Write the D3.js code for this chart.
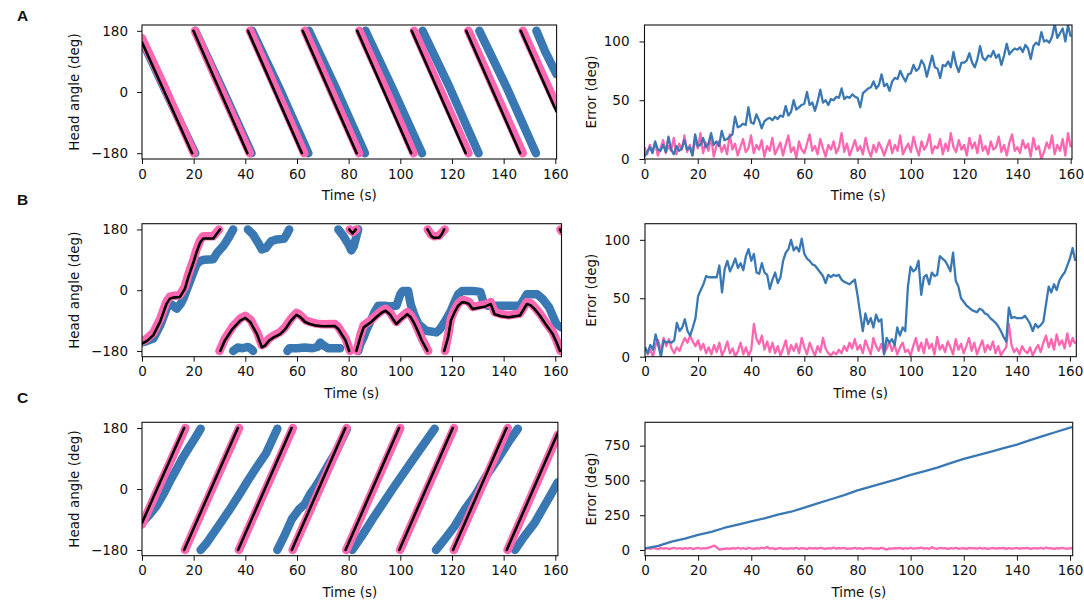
<!DOCTYPE html>
<html>
<head>
<meta charset="utf-8">
<script src="https://cdn.jsdelivr.net/npm/d3@7"></script>
<style>
  body { margin: 0; background: #fff; }
  svg { display: block; }
</style>
</head>
<body>
<script>
// tick labels
const timeTicks = [0, 20, 40, 60, 80, 100, 120, 140, 160];
const angleTicks = [-180, 0, 180];
const errTicksAB = [0, 50, 100];
const errTicksC = [0, 250, 500, 750];
const panelLetters = ['A', 'B', 'C'];

// head angle trajectories, [time s, angle deg], one array per unwrapped piece
const angleA_black = [
  [[0, 146], [19.4, -180]],
  [[19.9, 180], [40.8, -180]],
  [[41.0, 180], [61.9, -180]],
  [[62.2, 180], [83.1, -180]],
  [[83.3, 180], [104.2, -180]],
  [[104.4, 180], [125.3, -180]],
  [[125.5, 180], [146.4, -180]],
  [[146.6, 180], [160.5, -58]]
];
const angleA_pink = [
  [[0, 158], [8, 27], [20.1, -180]],
  [[20.5, 180], [30, 16], [41.7, -180]],
  [[41.8, 180], [52, 6], [62.8, -180]],
  [[63.0, 180], [73, 8], [84.0, -180]],
  [[84.1, 180], [95, -4], [105.1, -180]],
  [[105.3, 180], [116, -3], [126.4, -180]],
  [[126.3, 180], [137, -3], [147.4, -180]],
  [[147.4, 180], [160.5, -40]]
];
const angleA_blue = [
  [[0, 152], [10, -12], [20.6, -180]],
  [[20.6, 180], [31, 10], [42.4, -180]],
  [[42.6, 180], [53, 14], [64.4, -180]],
  [[64.6, 180], [75, 12], [86.3, -180]],
  [[86.5, 180], [97, 10], [108.4, -180]],
  [[108.6, 180], [119, 15], [130.3, -180]],
  [[130.6, 180], [141, 16], [152.5, -180]],
  [[152.7, 180], [156, 120], [160.5, 52]]
];

const angleB_black = [
  [[0, -158], [2, -150], [4.4, -133], [7, -94], [9.5, -40], [10.8, -25], [12, -22], [14.7, -20], [16.6, 4], [18, 40], [19.9, 82], [21, 110], [22.5, 141], [23.7, 153], [27.6, 153], [30.2, 180]],
  [[30.3, -180], [32, -150], [35, -115], [38, -90], [40, -82], [42, -95], [44.5, -130], [46.4, -169], [47.5, -165], [49.2, -149], [51, -140], [53.5, -130], [55.5, -115], [57.7, -90], [59.8, -73], [61, -78], [63.3, -95], [65, -100], [67.5, -105], [70, -107], [74.6, -106], [76, -115], [78.8, -149], [80.2, -180]],
  [[80.2, 180], [81.5, 168], [82.8, 180]],
  [[83.0, -180], [84.5, -140], [85.8, -110], [88.6, -95], [91, -78], [92.9, -66], [94.3, -61], [96, -72], [97.1, -85], [98.5, -100], [100.5, -85], [102.7, -71], [104, -80], [105.5, -100], [107, -125], [108.3, -149], [110.5, -180]],
  [[110.5, 180], [112, 160], [113, 155], [115, 156], [116, 165], [117, 180]],
  [[117, -180], [118.5, -140], [119.6, -90], [121, -65], [122.4, -46], [123.8, -36], [125, -36], [126.6, -41], [128, -56], [130.9, -51], [133, -48], [135, -41], [136.5, -71], [139, -77], [142, -80], [146.3, -75], [149, -41], [150.5, -45], [152, -56], [154, -75], [156.2, -100], [159, -130], [160.5, -155], [161.8, -180]],
  [[161.8, 180], [162.4, 172]]
];
const angleB_pink = [
  [[0, -152], [2, -143], [4.4, -126], [7, -86], [9.5, -33], [10.8, -19], [12, -17], [14.7, -14], [16.6, 11], [18, 48], [19.9, 90], [21, 118], [22.5, 148], [23.7, 160], [27.6, 160], [29.8, 180]],
  [[30.0, -180], [32, -145], [35, -109], [38, -84], [40, -76], [42, -88], [44.5, -123], [46.4, -163], [47.5, -159], [49.2, -143], [51, -134], [53.5, -124], [55.5, -109], [57.7, -84], [59.8, -67], [61, -72], [63.3, -89], [65, -94], [67.5, -99], [70, -101], [74.6, -100], [76, -109], [78.8, -143], [80.5, -180]],
  [[80.4, 180], [81.6, 172], [83.0, 180]],
  [[83.2, -180], [84.5, -134], [85.8, -104], [88.6, -89], [91, -72], [92.9, -60], [94.3, -55], [96, -66], [97.1, -79], [98.5, -94], [100.5, -79], [102.7, -65], [104, -74], [105.5, -94], [107, -119], [108.3, -143], [110.8, -180]],
  [[110.6, 180], [112, 164], [113, 160], [115, 161], [116, 170], [117.2, 180]],
  [[117.3, -180], [118.5, -134], [119.6, -84], [121, -59], [122.4, -40], [123.8, -30], [125, -30], [126.6, -35], [128, -50], [130.9, -45], [133, -42], [135, -35], [136.5, -65], [139, -71], [142, -74], [146.3, -69], [149, -35], [150.5, -39], [152, -50], [154, -69], [156.2, -94], [159, -124], [160.5, -149], [162, -180]],
  [[162, 180], [162.4, 175]]
];
const angleB_blue = [
  [[0, -155], [2, -150], [4.4, -143], [7, -105], [9.5, -55], [10.8, -40], [12, -45], [13.4, -55], [15, -40], [16, -25], [18, 15], [19.9, 53], [21, 75], [22.5, 87], [24, 90], [27.6, 92], [29, 110], [31.5, 131], [33.5, 155], [35.3, 180]],
  [[35.3, -180], [37, -170], [39, -172], [41, -168], [42.5, -175], [43, -180]],
  [[41, 180], [43, 165], [45, 140], [46.4, 121], [48, 125], [50, 145], [52, 150], [54.9, 152], [56, 165], [57, 180]],
  [[56.3, -180], [57, -172], [60, -172], [63, -170], [66, -172], [68, -168], [69, -155], [70, -162], [72, -172], [76.7, -172]],
  [[76, 180], [78, 160], [80, 135], [81, 118], [82, 130], [83, 160], [83.7, 180]],
  [[83.7, -180], [84.5, -160], [85.8, -139], [87, -115], [88.6, -90], [90, -65], [91.5, -46], [94, -46], [96, -48], [98.5, -46], [100, -12], [101, -2], [103, -2], [104, -41], [105.5, -75], [107, -100], [110, -120], [114, -125], [115.4, -115], [117.5, -90], [119.6, -61], [121, -35], [122.4, -12], [124, -2], [128, -2], [131, -5], [132, -31], [133.7, -46], [140, -46], [146.3, -46], [148, -25], [149, -12], [153, -12], [155, -25], [157.6, -51], [160.4, -100], [162.4, -110]]
];

const angleC_black = [
  [[0, -100], [16.3, 180]],
  [[16.3, -180], [37.1, 180]],
  [[37.2, -180], [57.9, 180]],
  [[58.0, -180], [78.7, 180]],
  [[78.8, -180], [99.5, 180]],
  [[99.6, -180], [120.3, 180]],
  [[120.4, -180], [141.1, 180]],
  [[141.2, -180], [161, 166]]
];
const angleC_pink = [
  [[0, -105], [16.8, 180]],
  [[16.6, -180], [37.6, 180]],
  [[37.5, -180], [58.4, 180]],
  [[58.3, -180], [79.2, 180]],
  [[79.1, -180], [100.0, 180]],
  [[99.9, -180], [120.8, 180]],
  [[120.7, -180], [141.6, 180]],
  [[141.5, -180], [161, 160]]
];
const angleC_blue = [
  [[0, -100], [3, -75], [5.7, -49], [8.5, -12], [11.3, 30], [13.5, 60], [15.6, 90], [18.4, 125], [20.5, 150], [22.7, 178]],
  [[22.7, -180], [25, -160], [29.7, -108], [34, -60], [38.2, -10], [41, 25], [43.9, 59], [48, 105], [52.4, 178]],
  [[52.4, -180], [55, -140], [58, -89], [60.9, -59], [63, -45], [65.1, -15], [67, 5], [69.4, 35], [72, 70], [75, 108], [79.3, 177]],
  [[81.4, -180], [85, -140], [90, -80], [93.5, -40], [97, 0], [102, 55], [107, 110], [113.3, 178]],
  [[113.8, -180], [117, -150], [121, -110], [125, -60], [128.8, -20], [133, 35], [137, 80], [142, 140], [145.5, 178]],
  [[144.4, -180], [148, -140], [152, -100], [155, -60], [158, -20], [161, 20]]
];

// error traces, one sample per second starting at t = 0
const errorA_pink = [10,4,12,6,14,3,9,16,5,11, 7,18,4,13,8,20,6,12,3,17,
  9,22,5,14,7,19,2,11,15,6, 12,4,21,8,13,3,10,17,6,9,
  20,5,12,8,16,2,11,7,18,4, 9,14,3,12,20,6,10,1,15,8,
  5,13,21,7,11,4,17,9,2,12, 8,15,5,10,22,6,13,3,9,16,
  7,11,4,18,8,2,12,6,14,9, 3,10,16,5,12,7,20,4,9,13,
  6,19,10,3,15,8,12,21,5,11, 9,17,4,13,7,22,10,6,16,8,
  12,3,18,9,14,5,20,7,11,4, 15,8,10,19,6,12,3,14,21,7,
  10,5,16,9,13,2,18,8,11,0, 6,14,9,20,4,12,7,17,3,22, 10];
const errorA_blue = [2,6,10,5,15,8,7,12,6,19, 8,4,11,7,9,16,8,10,3,21,
  11,12,18,10,13,22,12,15,11,24, 16,17,19,21,36,27,28,30,29,44,
  31,30,38,33,26,32,34,35,33,36, 34,37,36,45,37,40,50,42,44,46,
  47,57,46,48,41,49,59,48,50,46, 51,50,53,52,60,51,53,52,55,53,
  52,44,56,58,60,61,66,60,63,72, 62,64,58,66,69,68,75,70,66,72,
  73,80,75,77,84,80,70,79,88,78, 77,69,80,79,83,78,91,80,74,82,
  82,84,90,82,78,85,96,86,84,88, 87,92,86,89,80,88,98,89,92,94,
  93,95,91,97,94,85,96,99,97,108, 100,101,99,104,115,103,107,111,100,114, 104];

const errorB_pink = [8,2,6,0,10,14,4,16,9,15, 7,3,8,5,11,16,12,18,13,9,
  14,6,11,3,8,2,10,4,12,1, 6,13,3,7,0,5,12,2,8,1,
  6,28,15,11,18,6,13,4,12,3, 9,1,7,14,2,10,5,11,3,16,
  8,2,12,6,1,9,4,16,7,3, 1,4,2,6,3,9,5,12,7,15,
  6,10,3,14,8,2,16,9,5,11, 3,7,13,5,10,2,8,12,4,6,
  1,9,16,5,12,3,15,7,11,2, 17,6,10,4,13,8,2,15,6,11,
  3,9,16,5,12,2,8,14,4,10, 6,13,3,9,1,5,8,28,10,4,
  7,2,9,5,3,8,1,6,10,4, 12,18,8,15,6,19,10,14,7,20, 9,16,11];
const errorB_blue = [8,3,10,6,19,10,0,14,12,13, 12,14,29,22,25,32,22,18,25,33,
  52,57,62,69,68,68,68,68,78,55, 75,82,73,78,84,76,80,74,86,92,
  82,88,72,71,80,72,70,58,66,72, 63,68,82,89,92,100,91,94,90,101,
  88,84,82,79,78,75,72,69,63,70, 68,70,69,70,66,64,63,62,64,66,
  53,37,22,37,28,33,25,36,30,32, 2,16,12,15,10,25,18,25,22,60,
  77,73,75,82,53,68,70,62,72,69, 70,86,84,82,78,73,89,65,60,50,
  47,44,42,40,39,38,41,40,37,36, 33,31,29,26,22,17,13,42,33,34,
  33,33,33,35,32,28,22,28,25,27, 30,45,60,55,62,57,65,69,72,78, 84,93,82];

const errorC_pink = [10,14,8,16,11,6,15,9,13,7, 12,16,9,14,8,13,10,15,7,12,
  16,9,14,11,17,22,32,18,2,6, 9,12,8,14,10,16,9,13,7,15,
  11,8,14,10,16,12,22,9,13,6, 11,15,8,12,9,14,10,16,8,13,
  11,7,15,10,13,9,16,12,8,14, 10,17,9,13,11,15,8,12,10,16,
  9,13,7,14,11,15,9,12,8,16, 10,3,12,9,14,11,15,8,13,10,
  16,9,14,11,17,10,13,8,20,12, 9,15,11,14,8,13,10,16,9,12,
  14,8,15,11,13,9,16,10,14,8, 12,15,9,13,11,16,8,14,10,12,
  15,9,13,11,16,8,12,14,10,15, 9,18,11,13,8,14,10,16,12,9, 14,11];
// [time s, error deg]
const errorC_blue = [[0, 12], [5, 30], [10, 60], [15, 82], [20, 108], [25, 130], [30, 160], [35, 183],
  [40, 206], [45, 228], [50, 255], [55, 275], [60, 305], [65, 335], [70, 365], [75, 395],
  [80, 428], [85, 455], [90, 482], [95, 510], [100, 540], [105, 565], [110, 592], [115, 625],
  [120, 655], [125, 680], [130, 705], [135, 732], [140, 758], [145, 790], [150, 820], [155, 850],
  [160, 880], [161, 884]];

// figure
const blue = '#3a78b3';
const pink = '#fd66b0';
const ink = '#111';

const svg = d3.select('body').append('svg').attr('width', 1084).attr('height', 605);

let clipCount = 0;
function makeAxes(box, tMax, yDomain, yTicks, yLabel, pad, labelX) {
  let x = d3.scaleLinear().domain([0, tMax]).range([box.x0, box.x1]);
  let y = d3.scaleLinear().domain(yDomain).range([box.y1, box.y0]);
  let id = 'clip' + (clipCount++);
  svg.append('clipPath').attr('id', id).append('rect')
    .attr('x', box.x0).attr('y', box.y0).attr('width', box.x1 - box.x0).attr('height', box.y1 - box.y0);
  let plot = svg.append('g').attr('clip-path', 'url(#' + id + ')');

  let gx = svg.append('g').attr('transform', 'translate(0,' + box.y1 + ')')
    .call(d3.axisBottom(x).tickValues(timeTicks).tickSize(5).tickSizeOuter(0).tickPadding(5));
  let gy = svg.append('g').attr('transform', 'translate(' + box.x0 + ',0)')
    .call(d3.axisLeft(y).tickValues(yTicks).tickSize(5).tickSizeOuter(0).tickPadding(pad));
  [gx, gy].forEach(function (g) {
    g.select('.domain').remove();
    g.attr('font-size', 13.5).attr('font-family', 'DejaVu Sans');
    g.selectAll('text').attr('fill', ink);
    g.selectAll('line').attr('stroke', ink).attr('stroke-width', 1);
  });

  svg.append('text').attr('x', (box.x0 + box.x1) / 2).attr('y', box.y1 + 41)
    .attr('text-anchor', 'middle').attr('font-family', 'DejaVu Sans').attr('font-size', 13.5)
    .attr('fill', ink).text('Time (s)');
  svg.append('text')
    .attr('transform', 'translate(' + labelX + ',' + (box.y0 + box.y1) / 2 + ') rotate(-90)')
    .attr('text-anchor', 'middle').attr('font-family', 'DejaVu Sans').attr('font-size', 13.5)
    .attr('fill', ink).text(yLabel);
  return { x: x, y: y, plot: plot, box: box };
}

function frame(ax) {
  svg.append('rect').attr('x', ax.box.x0).attr('y', ax.box.y0)
    .attr('width', ax.box.x1 - ax.box.x0).attr('height', ax.box.y1 - ax.box.y0)
    .attr('fill', 'none').attr('stroke', ink).attr('stroke-width', 1.1);
}

function trail(ax, segs, color, width) {
  let line = d3.line().x(d => ax.x(d[0])).y(d => ax.y(d[1]));
  ax.plot.selectAll(null).data(segs).enter().append('path')
    .attr('d', line).attr('fill', 'none').attr('stroke', color)
    .attr('stroke-width', width).attr('stroke-linecap', 'round').attr('stroke-linejoin', 'round');
}

function trace(ax, pts, color, width) {
  let line = d3.line().x(d => ax.x(d[0])).y(d => ax.y(d[1]));
  ax.plot.append('path').datum(pts).attr('d', line).attr('fill', 'none')
    .attr('stroke', color).attr('stroke-width', width).attr('stroke-linejoin', 'round');
}

function perSecond(vals) { return vals.map((v, i) => [i, v]); }

const rows = [
  { y0: 25, y1: 159, left: [142, 556.6], right: [644.5, 1072], tMax: 160.5, letterY: 21 },
  { y0: 223.7, y1: 356.7, left: [142, 561.5], right: [645, 1076.3], tMax: 162.4, letterY: 205 },
  { y0: 422.3, y1: 555.7, left: [142, 557.9], right: [645, 1072.7], tMax: 161, letterY: 403 }
];
const angleSets = [
  [angleA_blue, angleA_pink, angleA_black],
  [angleB_blue, angleB_pink, angleB_black],
  [angleC_blue, angleC_pink, angleC_black]
];
const errorSets = [
  [errorA_pink, perSecond(errorA_blue), [0, 114], errTicksAB],
  [errorB_pink, perSecond(errorB_blue), [0, 113.8], errTicksAB],
  [errorC_pink, errorC_blue, [-41, 918], errTicksC]
];

rows.forEach(function (r, k) {
  svg.append('text').attr('x', 17).attr('y', r.letterY)
    .attr('font-family', 'Liberation Sans, Arial, sans-serif').attr('font-weight', 'bold')
    .attr('font-size', 15.5).attr('fill', ink).text(panelLetters[k]);

  let axL = makeAxes({ x0: r.left[0], x1: r.left[1], y0: r.y0, y1: r.y1 }, r.tMax,
    [-197, 197], angleTicks, 'Head angle (deg)', 9, 78.5);
  trail(axL, angleSets[k][0], blue, 8.5);
  trail(axL, angleSets[k][1], pink, 8.5);
  trail(axL, angleSets[k][2], '#000', 2.6);
  frame(axL);

  let e = errorSets[k];
  let axR = makeAxes({ x0: r.right[0], x1: r.right[1], y0: r.y0, y1: r.y1 }, r.tMax,
    e[2], e[3], 'Error (deg)', 10, 595.5);
  trace(axR, perSecond(e[0]), pink, 2.3);
  trace(axR, e[1], blue, 2.3);
  frame(axR);
});
</script>
</body>
</html>
